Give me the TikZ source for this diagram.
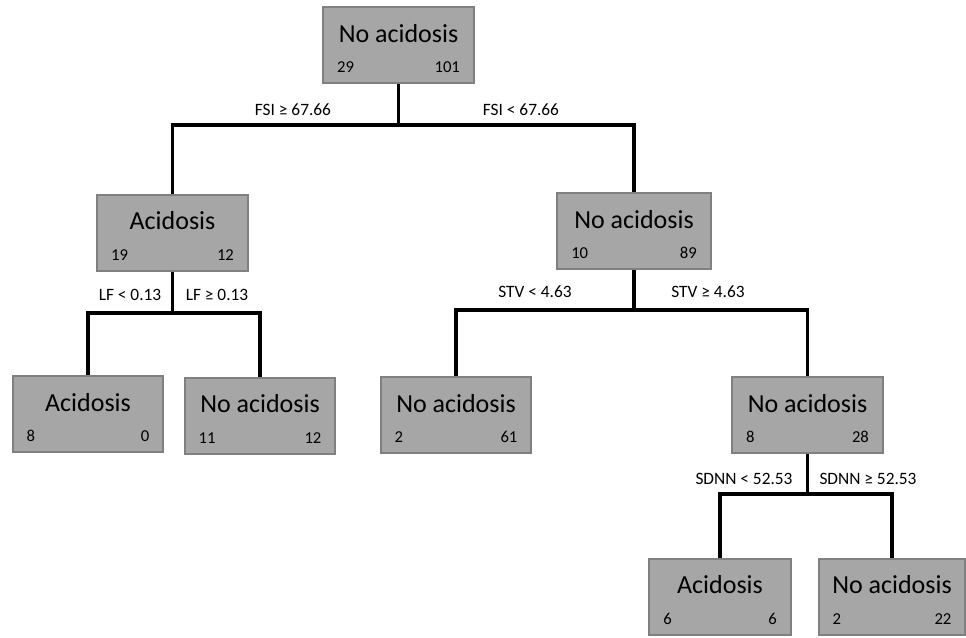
\documentclass[tikz,border=0pt]{standalone}
\usepackage{fontspec}
\setmainfont{Carlito}
\definecolor{boxfill}{HTML}{A6A6A6}
\definecolor{boxline}{HTML}{808080}
\begin{document}
\begin{tikzpicture}[x=0.75pt,y=-0.75pt,
   box/.style={draw=boxline,fill=boxfill,line width=1.5pt,minimum width=113pt,minimum height=57pt,inner sep=0pt},
   ttl/.style={anchor=base,inner sep=0pt,yshift=-27pt,font=\fontsize{19.5}{23}\selectfont},
   nl/.style={anchor=base west,inner sep=0pt,shift={(11pt,8.5pt)},font=\fontsize{12.5}{15}\selectfont},
   nr/.style={anchor=base east,inner sep=0pt,shift={(-11pt,8.5pt)},font=\fontsize{12.5}{15}\selectfont},
   to/.style={line width=2.8pt},
   cond/.style={inner sep=0pt,font=\fontsize{13}{16}\selectfont}]
\useasboundingbox (0,0) rectangle (966,637);
% boxes
\node[box] (root) at (398.5,45) {};
\node[box] (acid1) at (172.5,232.5) {};
\node[box,minimum width=115pt] (noac1) at (634,231) {};
\node[box] (leafA) at (88,414) {};
\node[box] (leafB) at (260,415.5) {};
\node[box] (leafC) at (456,415) {};
\node[box] (noac2) at (807.5,415) {};
\node[box,minimum width=106pt] (leafD) at (720,596.5) {};
\node[box,minimum width=110pt] (leafE) at (892,596.5) {};
% texts
\node[ttl] at (root.north) {No acidosis};
\node[nl] at (root.south west) {29};
\node[nr] at (root.south east) {101};
\node[ttl] at (acid1.north) {Acidosis};
\node[nl] at (acid1.south west) {19};
\node[nr] at (acid1.south east) {12};
\node[ttl] at (noac1.north) {No acidosis};
\node[nl] at (noac1.south west) {10};
\node[nr] at (noac1.south east) {89};
\node[ttl] at (leafA.north) {Acidosis};
\node[nl] at (leafA.south west) {8};
\node[nr] at (leafA.south east) {0};
\node[ttl] at (leafB.north) {No acidosis};
\node[nl] at (leafB.south west) {11};
\node[nr] at (leafB.south east) {12};
\node[ttl] at (leafC.north) {No acidosis};
\node[nl] at (leafC.south west) {2};
\node[nr] at (leafC.south east) {61};
\node[ttl] at (noac2.north) {No acidosis};
\node[nl] at (noac2.south west) {8};
\node[nr] at (noac2.south east) {28};
\node[ttl] at (leafD.north) {Acidosis};
\node[nl] at (leafD.south west) {6};
\node[nr] at (leafD.south east) {6};
\node[ttl] at (leafE.north) {No acidosis};
\node[nl] at (leafE.south west) {2};
\node[nr] at (leafE.south east) {22};
% splits
\coordinate (bar0) at (0,125);
\coordinate (bar1) at (0,313);
\coordinate (bar2) at (0,310);
\coordinate (bar3) at (0,494);
\draw[to] (root.south) -- (root.south |- bar0);
\draw[to] (acid1.north) |- (noac1.north |- bar0) -- (noac1.north);
\draw[to] (acid1.south) -- (acid1.south |- bar1);
\draw[to] (leafA.north) |- (leafB.north |- bar1) -- (leafB.north);
\draw[to] (noac1.south) -- (noac1.south |- bar2);
\draw[to] (leafC.north) |- (noac2.north |- bar2) -- (noac2.north);
\draw[to] (noac2.south) -- (noac2.south |- bar3);
\draw[to] (leafD.north) |- (leafE.north |- bar3) -- (leafE.north);
% conditions
\node[cond] (c1) at (293,110) {FSI ≥ 67.66};
\node[cond] (c2) at (521,110) {FSI < 67.66};
\node[cond] (c3) at (130,295) {LF < 0.13};
\node[cond] (c4) at (217,295) {LF ≥ 0.13};
\node[cond] (c5) at (535,292) {STV < 4.63};
\node[cond] (c6) at (708,292) {STV ≥ 4.63};
\node[cond] (c7) at (744,479) {SDNN < 52.53};
\node[cond] (c8) at (868,479) {SDNN ≥ 52.53};
\end{tikzpicture}
\end{document}
